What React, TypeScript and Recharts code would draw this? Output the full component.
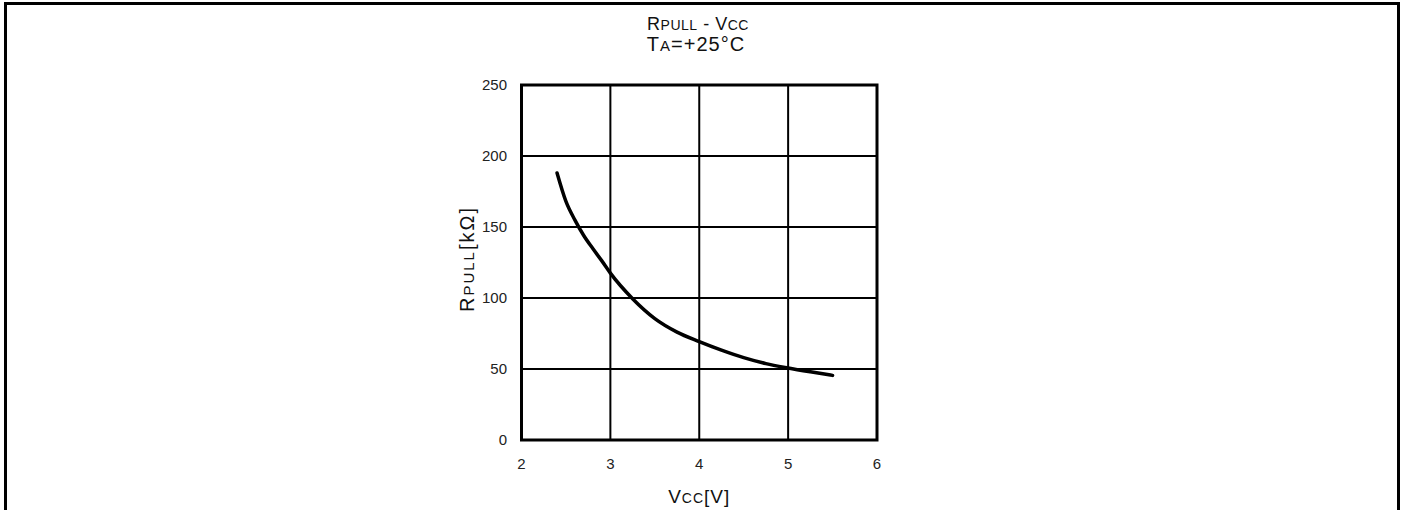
import React from "react";
import {
  LineChart,
  Line,
  XAxis,
  YAxis,
  CartesianGrid,
  ReferenceArea,
  Label,
} from "recharts";

const vccValues = [2.4, 2.5, 2.6, 2.7, 2.8, 2.9, 3.0, 3.25, 3.5, 3.75, 4.0, 4.25, 4.5, 4.75, 5.0, 5.25, 5.5];
const rpullValues = [188, 168, 155, 144, 135, 126.5, 117.5, 99.5, 85.5, 76, 69.3, 63.3, 58, 53.8, 50.7, 48, 45.5];
const xTicks = [2, 3, 4, 5, 6];
const yTicks = [0, 50, 100, 150, 200, 250];

const data = vccValues.map((v, i) => ({ vcc: v, rpull: rpullValues[i] }));

const FONT = "'Liberation Sans', Arial, Helvetica, sans-serif";
const TICK_COLOR = "#222";

const XLabel = (props: any) => {
  const vb = props.viewBox || {};
  const cx = vb.x + vb.width / 2;
  return (
    <text x={cx} y={vb.y + 63} textAnchor="middle" fontFamily={FONT} fill="#111" letterSpacing={1}>
      <tspan fontSize={19}>V</tspan>
      <tspan fontSize={14}>CC</tspan>
      <tspan fontSize={19}>[V]</tspan>
    </text>
  );
};

const YLabel = (props: any) => {
  const vb = props.viewBox || {};
  const x = vb.x + 12.5;
  const y = 259;
  return (
    <text
      x={x}
      y={y}
      textAnchor="middle"
      fontFamily={FONT}
      fill="#111"
      letterSpacing={2}
      transform={`rotate(-90, ${x}, ${y})`}
    >
      <tspan fontSize={20}>R</tspan>
      <tspan fontSize={15}>PULL</tspan>
      <tspan fontSize={20}>[kΩ]</tspan>
    </text>
  );
};

export default function App() {
  return (
    <div style={{ position: "absolute", left: 0, top: 0, width: 1406, height: 510, background: "#fff", overflow: "hidden" }}>
      <div
        style={{
          position: "absolute",
          left: 4,
          top: 2,
          width: 1396,
          height: 520,
          boxSizing: "border-box",
          borderLeft: "3px solid #000",
          borderTop: "3px solid #000",
          borderRight: "3px solid #000",
        }}
      />
      <svg width={1406} height={80} style={{ position: "absolute", left: 0, top: 0 }}>
        <text x={698} y={30} textAnchor="middle" fontFamily={FONT} fill="#111" letterSpacing={0.5}>
          <tspan fontSize={18}>R</tspan>
          <tspan fontSize={14}>PULL</tspan>
          <tspan fontSize={18}> - V</tspan>
          <tspan fontSize={14}>CC</tspan>
        </text>
        <text x={696} y={51} textAnchor="middle" fontFamily={FONT} fill="#111" letterSpacing={1}>
          <tspan fontSize={20}>T</tspan>
          <tspan fontSize={15}>A</tspan>
          <tspan fontSize={20}>=+25°C</tspan>
        </text>
      </svg>
      <div style={{ position: "absolute", left: 0, top: 0 }}>
        <LineChart
          width={1406}
          height={510}
          data={data}
          margin={{ top: 85, right: 529, bottom: 40, left: 461.5 }}
        >
          <CartesianGrid stroke="#000" strokeWidth={2} fill="none" />
          <XAxis
            dataKey="vcc"
            type="number"
            domain={[2, 6]}
            ticks={xTicks}
            allowDataOverflow
            axisLine={false}
            tickLine={false}
            tickSize={0}
            tickMargin={18}
            height={30}
            tick={{ fontSize: 15, fill: TICK_COLOR, fontFamily: FONT }}
          >
            <Label content={<XLabel />} />
          </XAxis>
          <YAxis
            type="number"
            domain={[0, 250]}
            ticks={yTicks}
            allowDataOverflow
            axisLine={false}
            tickLine={false}
            tickSize={0}
            tickMargin={14.5}
            width={60}
            tick={{ fontSize: 15, fill: TICK_COLOR, fontFamily: FONT }}
          >
            <Label content={<YLabel />} />
          </YAxis>
          <ReferenceArea x1={2} x2={6} y1={0} y2={250} fill="none" stroke="#000" strokeWidth={3} />
          <Line
            type="monotone"
            dataKey="rpull"
            stroke="#000"
            strokeWidth={3.5}
            strokeLinecap="round"
            dot={false}
            activeDot={false}
            isAnimationActive={false}
          />
        </LineChart>
      </div>
    </div>
  );
}
